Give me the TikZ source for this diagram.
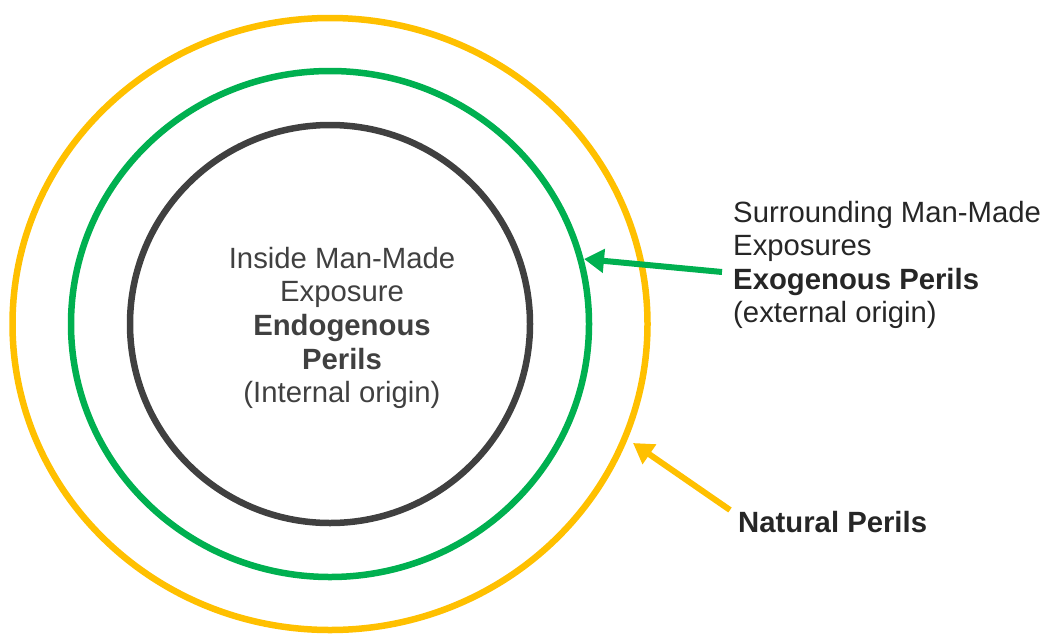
\documentclass[tikz,border=0pt]{standalone}
\usepackage{fontspec}
\setmainfont{Liberation Sans}
\usetikzlibrary{arrows.meta}
\definecolor{perilyellow}{HTML}{FFC000}
\definecolor{perilgreen}{HTML}{00B050}
\definecolor{perilgray}{HTML}{404040}
\definecolor{perilblack}{HTML}{262626}
\tikzset{
	label text/.style = {inner sep = 0pt, font = \fontsize{29.3}{33.6}\selectfont},
	pointer/.style = {line width = 6pt, -{Triangle[length = 20pt, width = 23pt]}}
}
\begin{document}
\begin{tikzpicture}[x = 1pt, y = -1pt]
		\useasboundingbox (0, 0) rectangle (1043, 635);
		\foreach \rx/\ry/\col in {317.5/306/perilyellow, 259/253/perilgreen, 200/199/perilgray}
		{
			\draw[line width = 6.5pt, \col] (330, 324) ellipse [x radius = \rx pt, y radius = \ry pt];
		}
		\node[label text, align = center, text = perilgray] (inside) at (342, 328)
			{Inside Man-Made\\Exposure\\\textbf{Endogenous}\\\textbf{Perils}\\(Internal origin)};
		\node[label text, align = left, anchor = west, text = perilblack] (surround) at (733, 265)
			{Surrounding Man-Made\\Exposures\\\textbf{Exogenous Perils}\\(external origin)};
		\node[label text, anchor = west, text = perilblack] (natural) at (738, 522) {\textbf{Natural Perils}};
		\coordinate (exotail) at (722, 272);
		\coordinate (exotip) at (584, 259);
		\coordinate (nattail) at (730, 510);
		\coordinate (nattip) at (633, 443);
		\draw[pointer, perilgreen] (exotail)--(exotip);
		\draw[pointer, perilyellow] (nattail)--(nattip);
		\end{tikzpicture}
\end{document}
